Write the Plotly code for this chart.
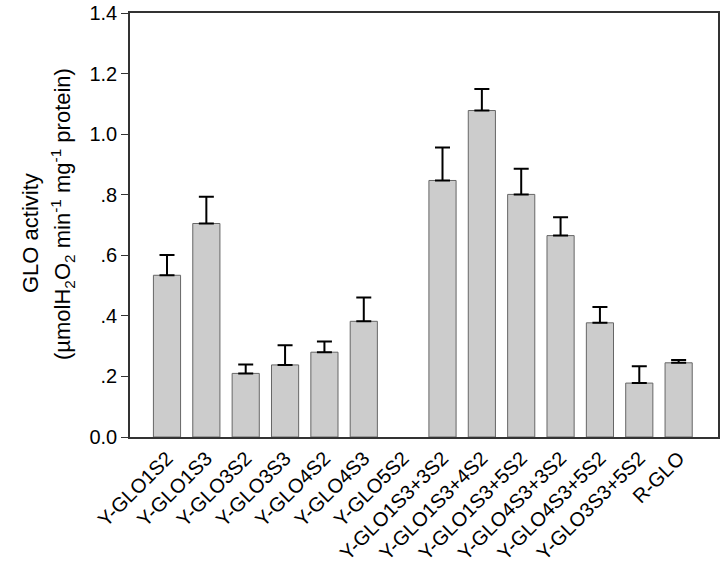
import plotly.graph_objects as go

categories = ["Y-GLO1S2", "Y-GLO1S3", "Y-GLO3S2", "Y-GLO3S3", "Y-GLO4S2", "Y-GLO4S3",
              "Y-GLO5S2", "Y-GLO1S3+3S2", "Y-GLO1S3+4S2", "Y-GLO1S3+5S2", "Y-GLO4S3+3S2",
              "Y-GLO4S3+5S2", "Y-GLO3S3+5S2", "R-GLO"]
activity = [0.534, 0.705, 0.210, 0.238, 0.280, 0.382, None, 0.847, 1.078, 0.801, 0.665,
            0.377, 0.178, 0.245]
sd = [0.067, 0.088, 0.029, 0.065, 0.035, 0.079, None, 0.109, 0.071, 0.085, 0.061,
      0.052, 0.056, 0.009]
ytick_vals = [0, 0.2, 0.4, 0.6, 0.8, 1.0, 1.2, 1.4]
ytick_text = ["0.0", ".2", ".4", ".6", ".8", "1.0", "1.2", "1.4"]

FONT = "Arial, Liberation Sans, sans-serif"

fig = go.Figure()
fig.add_trace(go.Bar(
    x=list(range(len(categories))), y=activity, width=0.69,
    marker=dict(color="#cccccc", line=dict(color="#666666", width=1)),
    error_y=dict(type="data", array=sd, symmetric=False,
                 arrayminus=[0] * len(sd), color="black", thickness=2, width=7.5),
))

fig.update_layout(
    width=723, height=563,
    margin=dict(l=130, r=5, t=13, b=126, autoexpand=False),
    plot_bgcolor="white", paper_bgcolor="white",
    showlegend=False,
    font=dict(family=FONT, size=20, color="black"),
    xaxis=dict(
        range=[-0.94, 14.0], tickmode="array",
        tickvals=list(range(len(categories))), ticktext=categories,
        tickangle=-45, ticks="", showgrid=False, zeroline=False, automargin=False,
        showline=True, linecolor="#333333", linewidth=1.5, mirror=True,
        tickfont=dict(size=20),
    ),
    yaxis=dict(
        range=[0, 1.4], tickmode="array", tickvals=ytick_vals, ticktext=ytick_text,
        ticks="outside", ticklen=7, tickcolor="#333333", tickwidth=1,
        showgrid=False, zeroline=False, automargin=False,
        showline=True, linecolor="#333333", linewidth=1.5, mirror=True,
        tickfont=dict(size=20),
    ),
    annotations=[
        dict(text="GLO activity", textangle=-90, xref="paper", yref="paper",
             x=0, y=0.5, xshift=-100, yshift=-8, xanchor="center", yanchor="middle",
             showarrow=False, font=dict(size=22)),
        dict(text="(µmolH<sub>2</sub>O<sub>2</sub> min<sup>-1</sup> mg<sup>-1</sup> protein)",
             textangle=-90, xref="paper", yref="paper",
             x=0, y=0.5, yshift=11, xshift=-68, xanchor="center", yanchor="middle",
             showarrow=False, font=dict(size=22)),
    ],
)

fig.write_html("out.html", config={"displayModeBar": False},
               post_script="document.body.style.margin='0';document.body.style.padding='0';")
